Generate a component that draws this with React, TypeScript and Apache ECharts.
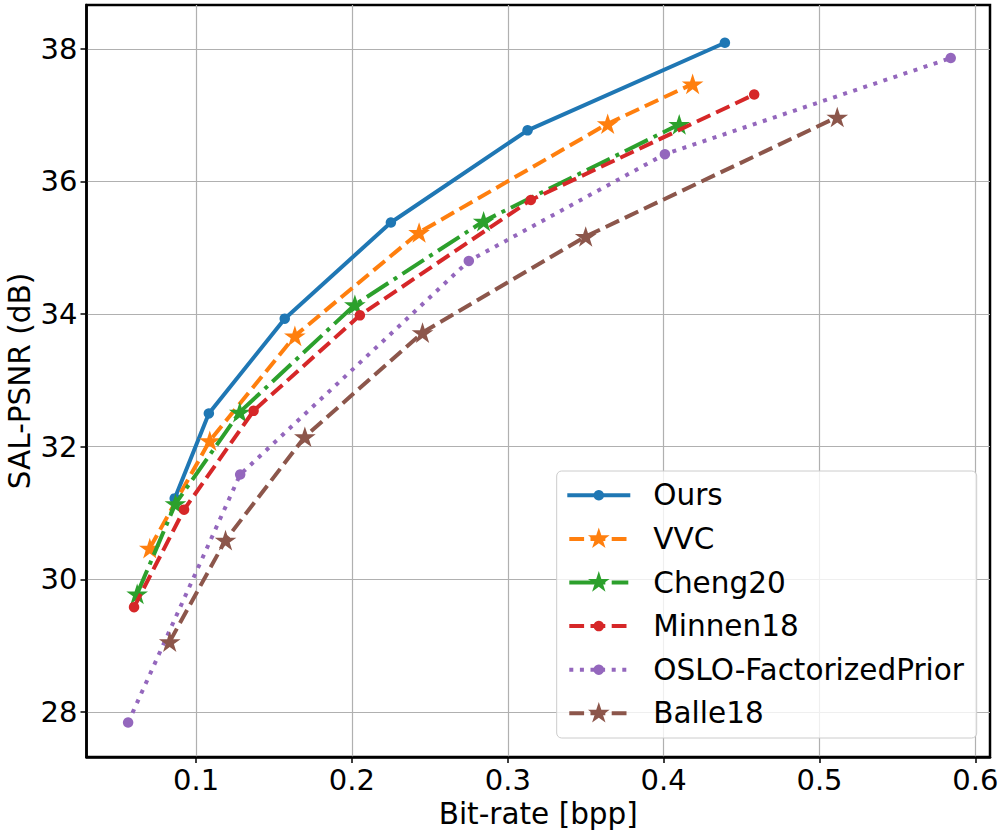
import React, { useEffect, useRef } from "react";
import * as echarts from "echarts";

// ---- data ----
const seriesNames = ["Ours", "VVC", "Cheng20", "Minnen18", "OSLO-FactorizedPrior", "Balle18"];
const oursX = [0.0863, 0.1082, 0.1569, 0.225, 0.3127, 0.4393];
const oursY = [31.22, 32.5, 33.93, 35.38, 36.77, 38.09];
const vvcX = [0.0703, 0.1088, 0.1634, 0.2431, 0.3641, 0.4186];
const vvcY = [30.47, 32.09, 33.67, 35.23, 36.87, 37.47];
const chengX = [0.0622, 0.0868, 0.128, 0.2019, 0.2845, 0.41];
const chengY = [29.78, 31.14, 32.52, 34.14, 35.4, 36.86];
const minnenX = [0.0602, 0.0923, 0.1369, 0.2051, 0.3148, 0.4581];
const minnenY = [29.58, 31.05, 32.54, 33.98, 35.72, 37.31];
const osloX = [0.0564, 0.1283, 0.275, 0.4008, 0.5842];
const osloY = [27.84, 31.58, 34.8, 36.41, 37.86];
const balleX = [0.0831, 0.1189, 0.1698, 0.2453, 0.35, 0.5114];
const balleY = [29.06, 30.59, 32.15, 33.72, 35.17, 36.97];

const xTicks = [0.1, 0.2, 0.3, 0.4, 0.5, 0.6];
const yTicks = [28, 30, 32, 34, 36, 38];
const xTitle = "Bit-rate [bpp]";
const yTitle = "SAL-PSNR (dB)";

const colors = ["#1f77b4", "#ff7f0e", "#2ca02c", "#d62728", "#9467bd", "#8c564b"];

const STAR_D =
  "M100 0 L122.45 69.1 L195.11 69.1 L136.33 111.8 L158.78 180.9 L100 138.2 L41.22 180.9 L63.67 111.8 L4.89 69.1 L77.55 69.1 Z";
const STAR = "path://" + STAR_D;

const FONT = "DejaVu Sans";

let starRegistered = false;
function ensureStar() {
  if (starRegistered) return;
  echarts.graphic.registerShape("star5", (echarts.graphic as any).extendPath(STAR_D, {}));
  starRegistered = true;
}

function pairs(xs: number[], ys: number[]) {
  return xs.map((x, i) => [x, ys[i]]);
}

export default function App() {
  const ref = useRef<HTMLDivElement>(null);
  useEffect(() => {
    if (!ref.current) return;
    ensureStar();
    const chart = echarts.init(ref.current, null, { renderer: "svg" });
    const lw = 4;
    const dashed = [3.7 * lw, 1.6 * lw];
    const dashdot = [6.4 * lw, 1.6 * lw, 1 * lw, 1.6 * lw];
    const dotted = [1 * lw, 1.65 * lw];
    const starSize = [21.7, 20.6];
    const circSize = 10.5;
    const defs = [
      { x: oursX, y: oursY, type: "solid" as any, star: false, cap: "square" },
      { x: vvcX, y: vvcY, type: dashed, star: true, cap: "butt" },
      { x: chengX, y: chengY, type: dashdot, star: true, cap: "butt" },
      { x: minnenX, y: minnenY, type: dashed, star: false, cap: "butt" },
      { x: osloX, y: osloY, type: dotted, star: false, cap: "butt" },
      { x: balleX, y: balleY, type: dashed, star: true, cap: "butt" },
    ];
    const series = defs.map((d, i) => ({
      name: seriesNames[i],
      type: "line",
      data: pairs(d.x, d.y),
      symbol: d.star ? STAR : "circle",
      symbolSize: d.star ? starSize : circSize,
      showSymbol: true,
      z: 2 + i,
      lineStyle: { color: colors[i], width: lw, type: d.type, cap: d.cap, join: "round" },
      itemStyle: { color: colors[i], borderWidth: 0 },
      emphasis: { disabled: true },
    }));

    // custom legend (matplotlib-like)
    const lgX = 556.7;
    const lgY = 471;
    const lgW = 420;
    const lgH = 267;
    const rowY0 = 495.3;
    const rowStep = 43.6;
    const lineX1 = 569.3;
    const lineX2 = 628.3;
    const markX = 598.8;
    const textX = 653.3;
    const s = starSize[0] / 190.22;
    const graphicEls: any[] = [
      {
        type: "text",
        x: 20,
        y: 381,
        rotation: Math.PI / 2,
        style: {
          text: yTitle,
          fill: "#000",
          fontSize: 29.5,
          fontFamily: FONT,
          align: "center",
          verticalAlign: "middle",
        },
        z: 50,
      },
      {
        type: "rect",
        shape: { x: lgX, y: lgY, width: lgW, height: lgH, r: 5 },
        style: { fill: "rgba(255,255,255,0.8)", stroke: "#cccccc", lineWidth: 1 },
        z: 100,
      },
    ];
    defs.forEach((d, i) => {
      const cy = rowY0 + i * rowStep;
      const solid = d.type === "solid";
      graphicEls.push({
        type: "line",
        shape: { x1: solid ? lineX1 - 2 : lineX1, y1: cy, x2: solid ? lineX2 + 2 : lineX2, y2: cy },
        style: {
          stroke: colors[i],
          lineWidth: lw,
          lineDash: solid ? null : d.type,
          lineCap: "butt",
        },
        z: 101,
      });
      if (d.star) {
        graphicEls.push({
          type: "star5",
          x: markX - 100 * s,
          y: cy - 100 * s,
          scaleX: s,
          scaleY: s,
          style: { fill: colors[i], stroke: null },
          z: 102,
        });
      } else {
        graphicEls.push({
          type: "circle",
          shape: { cx: markX, cy, r: circSize / 2 },
          style: { fill: colors[i] },
          z: 102,
        });
      }
      graphicEls.push({
        type: "text",
        x: textX,
        y: cy,
        style: {
          text: seriesNames[i],
          fill: "#000",
          fontSize: 29.5,
          fontFamily: FONT,
          verticalAlign: "middle",
          align: "left",
        },
        z: 102,
      });
    });

    chart.setOption({
      animation: false,
      color: colors,
      textStyle: { fontFamily: FONT },
      grid: {
        left: 86.5,
        right: 10,
        top: 5,
        bottom: 74,
        containLabel: false,
        outerBoundsMode: "none",
        show: true,
        borderColor: "#000",
        borderWidth: 2.5,
        backgroundColor: "transparent",
      },
      xAxis: {
        type: "value",
        min: 0.0297,
        max: 0.6094,
        name: xTitle,
        nameLocation: "middle",
        nameGap: 37,
        nameTextStyle: { fontSize: 29.5, color: "#000", fontFamily: FONT },
        axisLine: { show: true, lineStyle: { color: "#000", width: 2.5 } },
        axisTick: { show: true, length: 6, lineStyle: { color: "#000", width: 1.5 }, customValues: xTicks },
        axisLabel: {
          fontSize: 29,
          color: "#000",
          fontFamily: FONT,
          margin: 8,
          customValues: xTicks,
          formatter: (v: number) => v.toFixed(1),
        },
        splitLine: { show: true, lineStyle: { color: "#b0b0b0", width: 1.2 } },
      },
      yAxis: {
        type: "value",
        min: 27.32,
        max: 38.66,
        axisLine: { show: true, lineStyle: { color: "#000", width: 2.5 } },
        axisTick: { show: true, length: 6, lineStyle: { color: "#000", width: 1.5 }, customValues: yTicks },
        axisLabel: {
          fontSize: 29,
          color: "#000",
          fontFamily: FONT,
          margin: 9,
          customValues: yTicks,
          formatter: (v: number) => String(Math.round(v)),
        },
        splitLine: { show: true, lineStyle: { color: "#b0b0b0", width: 1.2 } },
      },
      graphic: graphicEls,
      series,
    });
    return () => chart.dispose();
  }, []);
  return (
    <div
      ref={ref}
      style={{ position: "fixed", left: 0, top: 0, width: 1000, height: 831, background: "#fff" }}
    />
  );
}
